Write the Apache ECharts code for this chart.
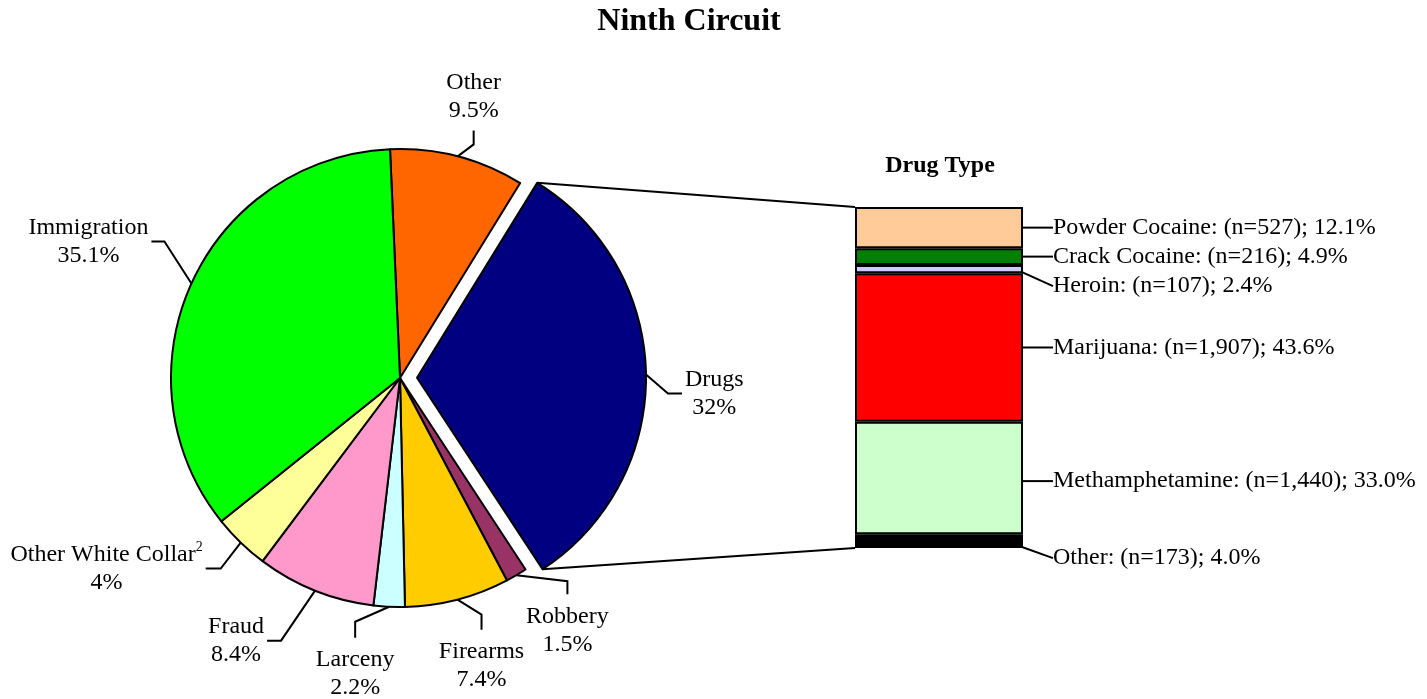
<!DOCTYPE html>
<html>
<head>
<meta charset="utf-8">
<script src="https://cdn.jsdelivr.net/npm/echarts@6/dist/echarts.min.js"></script>
<style>
html, body { margin: 0; padding: 0; background: #fff; }
#main { width: 1427px; height: 699px; }
</style>
</head>
<body>
<div id="main"></div>
<script>
// offense shares, clockwise from the top
var offenseNames = ['Other', 'Drugs', 'Robbery', 'Firearms', 'Larceny', 'Fraud', 'Other White Collar', 'Immigration'];
var offensePercents = [9.5, 32, 1.5, 7.4, 2.2, 8.4, 4, 35.1];
var offenseColors = ['#FF6600', '#000080', '#993366', '#FFCC00', '#CCFFFF', '#FF99CC', '#FFFF99', '#00FF00'];

// drug type breakdown, top to bottom
var drugNames = ['Powder Cocaine', 'Crack Cocaine', 'Heroin', 'Marijuana', 'Methamphetamine', 'Other'];
var drugCounts = [527, 216, 107, 1907, 1440, 173];
var drugPercents = [12.1, 4.9, 2.4, 43.6, 33.0, 4.0];
var drugColors = ['#FFCC99', '#008000', '#CCCCFF', '#FF0000', '#CCFFCC', '#000000'];

var FONT = 'Liberation Serif, Times New Roman, serif';
var CX = 400, CY = 378, R = 229;
var START = -2.5;   // degrees clockwise from 12 o'clock
var EXPLODE = 17;
var EXPLODED = 'Drugs';

// leader line shape per slice (elbow / end offsets from the slice edge)
var labelGuides = [
  { elbow: [16, -12], end: [16, -26], side: 'top' },
  { elbow: [22, 19], end: [36, 19], side: 'right' },
  { elbow: [51, 6], end: [51, 19], side: 'bottom' },
  { elbow: [24, 15], end: [24, 30], side: 'bottom' },
  { elbow: [-34, 15], end: [-34, 31], side: 'bottom' },
  { elbow: [-34, 50], end: [-48, 50], side: 'left' },
  { elbow: [-20, 26], end: [-35, 26], side: 'left' },
  { elbow: [-27, -42], end: [-40, -42], side: 'left' }
];

var total = offensePercents.reduce(function (a, b) { return a + b; }, 0);

function sliceAngles(i) {
  var before = 0;
  for (var k = 0; k < i; k++) before += offensePercents[k];
  var a1 = START + before / total * 360;
  var a2 = a1 + offensePercents[i] / total * 360;
  return [a1, a2, (a1 + a2) / 2];
}

function polar(deg, r, dx, dy) {
  var rad = deg * Math.PI / 180;
  return [CX + (dx || 0) + r * Math.sin(rad), CY + (dy || 0) - r * Math.cos(rad)];
}

function explodeShift(i) {
  if (offenseNames[i] !== EXPLODED) return [0, 0];
  var m = sliceAngles(i)[2] * Math.PI / 180;
  return [EXPLODE * Math.sin(m), -EXPLODE * Math.cos(m)];
}

function sliceEdgePoint(i) {
  var s = explodeShift(i);
  return polar(sliceAngles(i)[2], R, s[0], s[1]);
}

var hidden = {
  itemStyle: { color: 'rgba(0,0,0,0)', borderWidth: 0 },
  label: { show: false },
  labelLine: { show: false }
};

function pieData(showExploded) {
  return offenseNames.map(function (n, i) {
    var d = { name: n, value: offensePercents[i], itemStyle: { color: offenseColors[i] } };
    if ((n === EXPLODED) !== showExploded) {
      d.itemStyle = hidden.itemStyle;
      d.label = hidden.label;
      d.labelLine = hidden.labelLine;
    }
    return d;
  });
}

function pieSeries(showExploded) {
  var s = explodeShift(offenseNames.indexOf(EXPLODED));
  return {
    type: 'pie',
    center: showExploded ? [CX + s[0], CY + s[1]] : [CX, CY],
    radius: R,
    startAngle: 90 - START,
    clockwise: true,
    avoidLabelOverlap: false,
    silent: true,
    emphasis: { disabled: true },
    data: pieData(showExploded),
    itemStyle: { borderColor: '#000', borderWidth: 2 },
    label: {
      color: '#000',
      fontFamily: FONT,
      fontSize: 24,
      lineHeight: 28,
      formatter: function (p) {
        var name = p.name === 'Other White Collar' ? p.name + '{sup|2}' : p.name;
        return name + '\n' + p.value + '%';
      },
      rich: {
        sup: { fontFamily: FONT, fontSize: 14, color: '#000', verticalAlign: 'top', lineHeight: 28 }
      }
    },
    labelLine: { show: true, lineStyle: { color: '#000', width: 2 } },
    labelLayout: function (p) {
      var i = p.dataIndex, g = labelGuides[i];
      var p0 = sliceEdgePoint(i);
      var e = [p0[0] + g.elbow[0], p0[1] + g.elbow[1]];
      var t = [p0[0] + g.end[0], p0[1] + g.end[1]];
      var w = p.labelRect.width;
      var x = t[0], y = t[1], va = 'middle';
      if (g.side === 'left') x = t[0] - 3 - w / 2;
      if (g.side === 'right') x = t[0] + 3 + w / 2;
      if (g.side === 'top') { y = t[1] - 6; va = 'bottom'; }
      if (g.side === 'bottom') { y = t[1] + 8; va = 'top'; }
      return { x: x, y: y, align: 'center', verticalAlign: va, labelLinePoints: [p0, e, t] };
    }
  };
}

var chart = echarts.init(document.getElementById('main'));

var option = {
  animation: false,
  backgroundColor: '#fff',
  grid: { left: 855, top: 207, width: 168, height: 341 },
  xAxis: { type: 'category', data: ['Drugs'], show: false },
  yAxis: { type: 'value', min: 0, max: 100, inverse: true, show: false },
  series: [pieSeries(false), pieSeries(true)].concat(drugNames.map(function (n, i) {
    return {
      type: 'bar',
      name: n,
      stack: 'drug',
      barWidth: '100%',
      silent: true,
      data: [drugPercents[i]],
      itemStyle: { color: drugColors[i], borderColor: '#000', borderWidth: 2 },
      emphasis: { disabled: true },
      label: {
        show: true,
        position: 'right',
        distance: 30,
        color: '#000',
        fontFamily: FONT,
        fontSize: 24,
        formatter: function () {
          return n + ': (n=' + drugCounts[i].toLocaleString('en-US') + '); ' + drugPercents[i].toFixed(1) + '%';
        }
      },
      labelLine: { show: true, lineStyle: { color: '#000', width: 2 } },
      labelLayout: function (p) {
        var x0 = p.rect.x + p.rect.width, y0 = p.rect.y + p.rect.height / 2;
        var dy = (n === 'Heroin' || n === 'Other') ? 17 : (n === 'Methamphetamine' ? 3 : 0);
        var bend = (n === 'Heroin' || n === 'Other') ? 21 : 0;
        return {
          x: x0 + 30, y: y0 + dy, align: 'left', verticalAlign: 'middle',
          labelLinePoints: [[x0, y0 + (bend ? 0 : dy)], [x0 + (bend || 14), y0 + dy], [x0 + 28, y0 + dy]]
        };
      }
    };
  }))
};

chart.setOption(option);

// lines joining the exploded slice to the drug type bar
var gridRect = chart.getModel().getComponent('grid', 0).coordinateSystem.getRect();
var di = offenseNames.indexOf(EXPLODED);
var ang = sliceAngles(di), sh = explodeShift(di);
var pTop = polar(ang[0], R, sh[0], sh[1]);
var pBot = polar(ang[1], R, sh[0], sh[1]);
chart.setOption({
  graphic: [
    { id: 'title', type: 'text', x: 689, y: 22, style: { text: 'Ninth Circuit', fontFamily: FONT, fontSize: 32, fontWeight: 'bold', fill: '#000', align: 'center', verticalAlign: 'middle' } },
    { id: 'subtitle', type: 'text', x: 940, y: 166, style: { text: 'Drug Type', fontFamily: FONT, fontSize: 24, fontWeight: 'bold', fill: '#000', align: 'center', verticalAlign: 'middle' } },
    { id: 'joinTop', type: 'line', shape: { x1: pTop[0], y1: pTop[1], x2: gridRect.x, y2: gridRect.y }, style: { stroke: '#000', lineWidth: 2 } },
    { id: 'joinBottom', type: 'line', shape: { x1: pBot[0], y1: pBot[1], x2: gridRect.x, y2: gridRect.y + gridRect.height }, style: { stroke: '#000', lineWidth: 2 } }
  ]
});
</script>
</body>
</html>
